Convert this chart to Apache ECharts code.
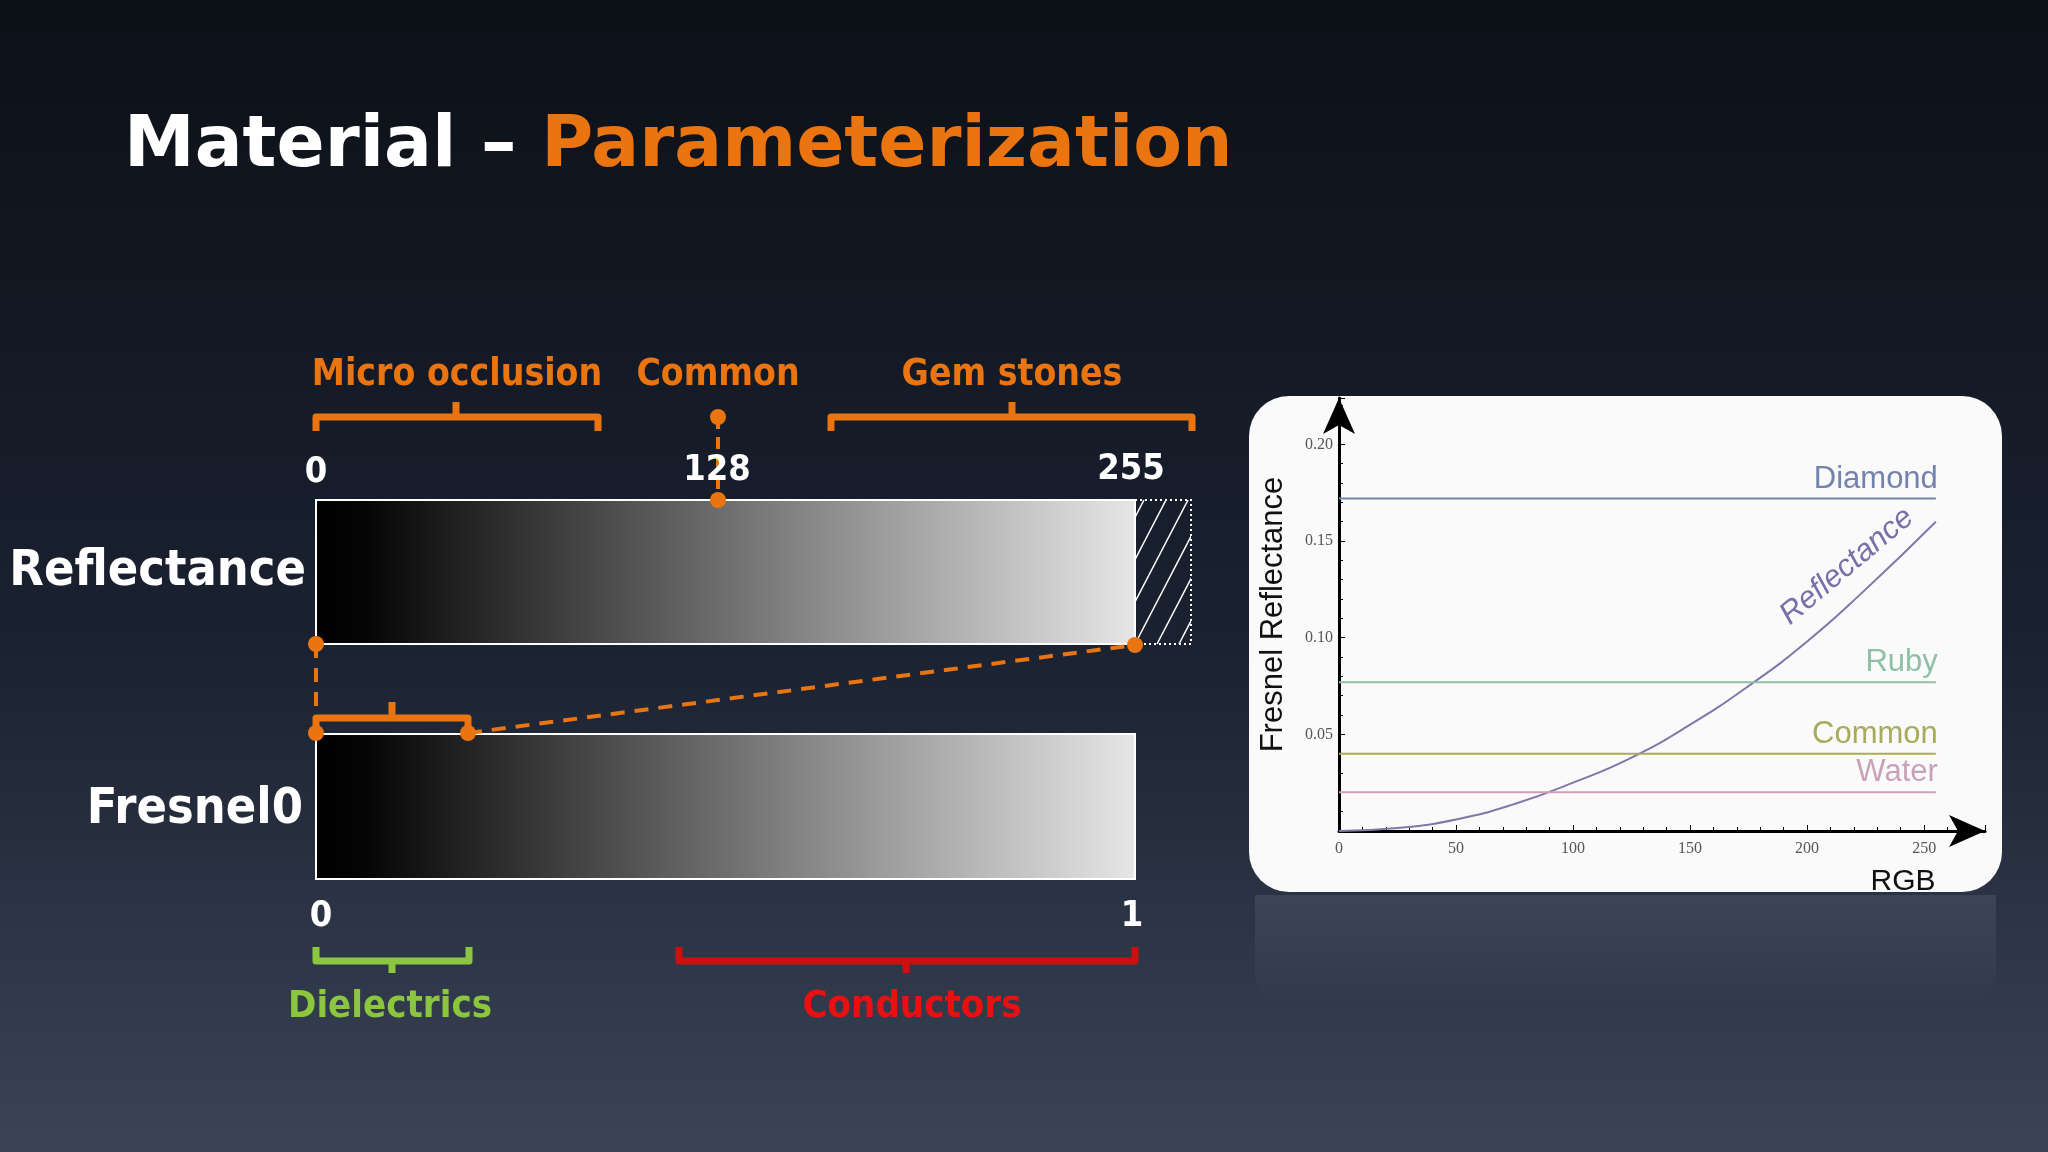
<!DOCTYPE html>
<html><head><meta charset="utf-8">
<script src="https://cdn.jsdelivr.net/npm/echarts@6/dist/echarts.min.js"></script>
<style>html,body{margin:0;padding:0;background:#10141c}#c{width:2048px;height:1152px}</style>
</head><body><div id="c"></div>
<script>
// ---- data ----
const rgbX = [0, 25, 50, 75, 100, 125, 150, 175, 200, 225, 255];
const reflectanceY = [0, 0.0015, 0.006, 0.014, 0.025, 0.038, 0.055, 0.075, 0.098, 0.125, 0.16];
const materialNames = ['Diamond', 'Ruby', 'Common', 'Water'];
const materialValues = [0.172, 0.077, 0.04, 0.02];
const materialColors = ['#7483ad', '#8fbfa4', '#aaaa5c', '#c9a2ba'];
const xTicks = [0, 50, 100, 150, 200, 250];
const yTicks = [0.05, 0.10, 0.15, 0.20];

const chart = echarts.init(document.getElementById('c'));
const ORANGE = '#ea7410';
const F = '"DejaVu Sans Condensed","DejaVu Sans",sans-serif';

function bracket(x1, x2, y, dir, nubX, color) {
  const h = 14 * -dir;
  return {type:'polyline', shape:{points:[[x1,y+h],[x1,y],[x2,y],[x2,y+h]]}, style:{stroke:color,lineWidth:7,fill:null,lineJoin:'round'}};
}
function nubLine(x, y, len, color){return {type:'line',shape:{x1:x,y1:y,x2:x,y2:y+len},style:{stroke:color,lineWidth:7}};}
function dot(x,y){return {type:'circle',shape:{cx:x,cy:y,r:8},style:{fill:ORANGE}};}
function txt(x,y,t,size,color,align){return {type:'text',x:x,y:y,style:{text:t,font:'bold '+size+'px '+F,fill:color,align:align||'center',verticalAlign:'middle'}};}

const hatch = [];
for (let i = -3; i < 6; i++) {
  const x0 = 1135 + i*22;
  hatch.push({type:'line',shape:{x1:x0,y1:644,x2:x0+75,y2:500},style:{stroke:'#fff',lineWidth:1.5}});
}
const barGrad = () => new echarts.graphic.LinearGradient(0,0,1,0,[{offset:0,color:'#000'},{offset:0.06,color:'#050505'},{offset:1,color:'#e6e6e6'}]);
const TF = 'bold 71px "DejaVu Sans",sans-serif';

const graphics = [
  {type:'text',x:124,y:148,style:{text:'{a|Material – }{b|Parameterization}',font:TF,verticalAlign:'middle',
    rich:{a:{fill:'#fff',font:TF},b:{fill:ORANGE,font:TF}}}},
  {type:'rect',shape:{x:1249,y:396,width:753,height:496,r:40},style:{fill:'#fafafa'},z:-1},
  {type:'rect',shape:{x:1255,y:895,width:741,height:110,r:[0,0,30,30]},style:{fill:new echarts.graphic.LinearGradient(0,0,0,1,[{offset:0,color:'rgba(190,195,210,0.12)'},{offset:1,color:'rgba(190,195,210,0)'}])},z:-1},
  txt(457,375,'Micro occlusion',37,ORANGE), txt(718,375,'Common',37,ORANGE), txt(1012,375,'Gem stones',37,ORANGE),
  bracket(316,598,417,-1,0,ORANGE), nubLine(456,402,15,ORANGE),
  bracket(831,1192,417,-1,0,ORANGE), nubLine(1012,402,15,ORANGE),
  dot(718,417), {type:'line',shape:{x1:718,y1:417,x2:718,y2:500},style:{stroke:ORANGE,lineWidth:4,lineDash:[12,8]}},
  txt(316,473,'0',36,'#fff'), txt(717,471,'128',36,'#fff'), txt(1131,470,'255',36,'#fff'),
  {type:'rect',shape:{x:316,y:500,width:819,height:144},style:{fill:barGrad(),stroke:'#fff',lineWidth:2}},
  {type:'group',children:hatch,clipPath:{type:'rect',shape:{x:1135,y:500,width:56,height:144}}},
  {type:'polyline',shape:{points:[[1135,500],[1191,500],[1191,644],[1135,644]]},style:{stroke:'#fff',lineWidth:2,lineDash:[2,3],fill:null}},
  {type:'rect',shape:{x:316,y:734,width:819,height:145},style:{fill:barGrad(),stroke:'#fff',lineWidth:2}},
  txt(306,572,'Reflectance',50,'#fff','right'), txt(303,810,'Fresnel0',50,'#fff','right'),
  {type:'line',shape:{x1:316,y1:644,x2:316,y2:712},style:{stroke:ORANGE,lineWidth:4,lineDash:[14,10]}},
  {type:'line',shape:{x1:468,y1:733,x2:1135,y2:645},style:{stroke:ORANGE,lineWidth:4,lineDash:[14,10]}},
  bracket(316,468,718,-1,0,ORANGE), nubLine(392,702,16,ORANGE),
  dot(316,644), dot(1135,645), dot(316,733), dot(468,733), dot(718,500),
  txt(321,917,'0',36,'#fff'), txt(1132,917,'1',36,'#fff'),
  bracket(316,469,961,1,0,'#8cc63f'), nubLine(392,961,12,'#8cc63f'),
  bracket(679,1135,961,1,0,'#cc1010'), nubLine(906,961,12,'#cc1010'),
  txt(390,1007,'Dielectrics',38,'#8cc63f'), txt(912,1007,'Conductors',38,'#e81010'),
  {type:'text',x:1903,y:882,style:{text:'RGB',font:'30px "Liberation Sans",Arial,sans-serif',fill:'#111',align:'center',verticalAlign:'middle'}},
];

const series = [{
  type:'line', data: rgbX.map((x,i)=>[x, reflectanceY[i]]), smooth:true, symbol:'none',
  lineStyle:{color:'#8078a8', width:2}, z:3
}];
materialNames.forEach((n,i)=>{
  series.push({type:'line', symbol:'none', lineStyle:{color:materialColors[i], width:2},
    data:[[0,materialValues[i]],[255,materialValues[i]]],
    endLabel:{show:true,formatter:n,distance:0,align:'right',verticalAlign:'bottom',offset:[2,-4],
      color:materialColors[i],fontSize:31,fontFamily:'"Liberation Sans",Arial,sans-serif'}});
});

chart.setOption({
  backgroundColor: new echarts.graphic.LinearGradient(0,0,0,1,[{offset:0,color:'#0c1017'},{offset:0.55,color:'#1a2130'},{offset:1,color:'#3a4456'}]),
  animation:false,
  grid:{left:1339, top:398, right:63, bottom:321, containLabel:false},
  xAxis:{type:'value', min:0, max:276, interval:50,
    axisLine:{lineStyle:{color:'#000',width:3}, symbol:['none','arrow'], symbolSize:[24,36]},
    axisTick:{show:true,inside:true,length:6,lineStyle:{color:'#000'}},
    minorTick:{show:true,splitNumber:5,length:4,lineStyle:{color:'#000'}},
    splitLine:{show:false},
    axisLabel:{color:'#555',fontSize:16,fontFamily:'"Liberation Serif",serif',margin:10,formatter:v=>v>250?'':String(v)}},
  yAxis:{type:'value', min:0, max:0.224, interval:0.05,
    name:'Fresnel Reflectance', nameLocation:'middle', nameGap:50, nameRotate:90,
    nameTextStyle:{color:'#111',fontSize:31,fontFamily:'"Liberation Sans",Arial,sans-serif'},
    axisLine:{lineStyle:{color:'#000',width:3}, symbol:['none','arrow'], symbolSize:[24,36]},
    axisTick:{show:true,inside:true,length:6,lineStyle:{color:'#000'}},
    minorTick:{show:true,splitNumber:5,length:4,lineStyle:{color:'#000'}},
    splitLine:{show:false},
    axisLabel:{color:'#555',fontSize:16,fontFamily:'"Liberation Serif",serif',margin:6,formatter:v=>(v===0||v>0.2)?'':v.toFixed(2)}},
  series: series,
  graphic: graphics
});
const p = chart.convertToPixel({gridIndex:0},[217,0.137]);
graphics.push({type:'text',x:p[0],y:p[1],rotation:40*Math.PI/180,style:{text:'Reflectance',font:'italic 31px "Liberation Sans",Arial,sans-serif',fill:'#7870a8',align:'center',verticalAlign:'middle'}});
chart.setOption({graphic:graphics});
</script></body></html>
